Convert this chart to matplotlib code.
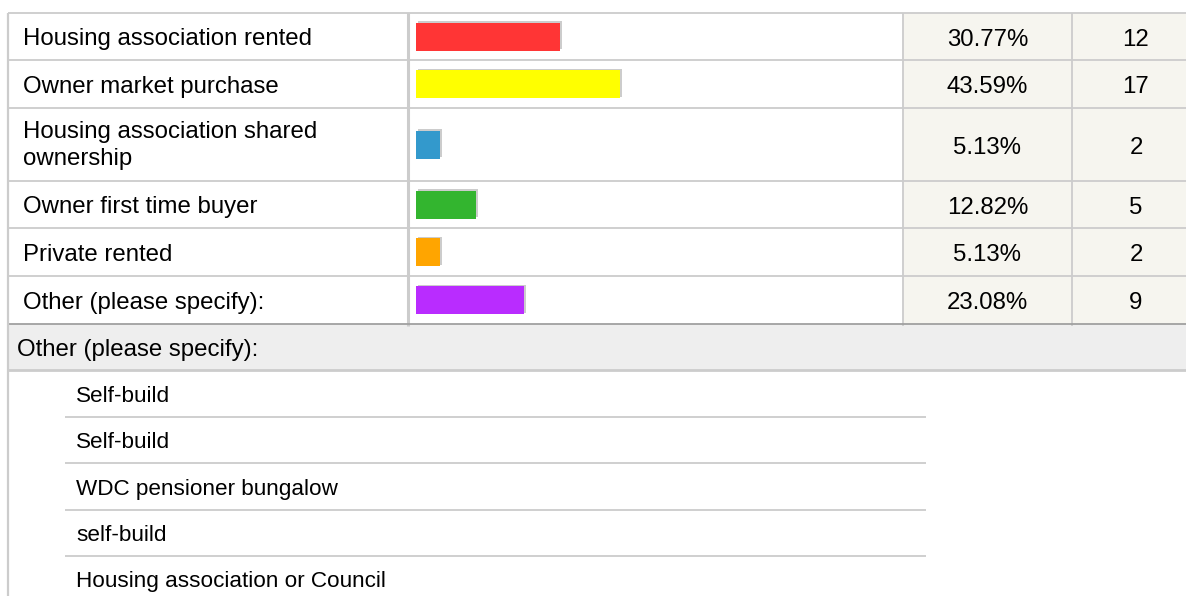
#!/usr/bin/env python3
"""
Survey response table: housing tenure, with inline bars and the
free-text answers given under "Other (please specify)".
"""
import matplotlib
matplotlib.use("Agg")
import matplotlib.pyplot as plt
import matplotlib.patheffects as pe
from matplotlib.patches import Rectangle
from matplotlib import rcParams

rcParams.update({
    "font.family":     ["Liberation Sans", "DejaVu Sans"],
    "font.size":       17.3,
    "savefig.dpi":     100,
})

# answers, share of responses, count
ANSWERS = [
    "Housing association rented",
    "Owner market purchase",
    "Housing association shared\nownership",
    "Owner first time buyer",
    "Private rented",
    "Other (please specify):",
]
PERCENTS = [30.77, 43.59, 5.13, 12.82, 5.13, 23.08]
COUNTS = [12, 17, 2, 5, 2, 9]
BAR_COLORS = ["#ff3535", "#ffff00", "#3399cc", "#33b52f", "#ffa500", "#b92cff"]

OTHER_HEADER = "Other (please specify):"
OTHER_TEXTS = [
    "Self-build",
    "Self-build",
    "WDC pensioner bungalow",
    "self-build",
    "Housing association or Council",
]

W, H = 1186, 596
LINE = "#cccccc"
CELL_BG = "#f6f5ef"
HEAD_BG = "#eeeeee"

# row boundaries (pixels from top)
ROW_EDGES = [13, 60, 108, 181, 228, 276, 324]
COL_X = [8, 408, 903, 1072, W]
COUNT_X = 1136
BAR_X0, PX_PER_PCT = 416, 4.68
SUB_EDGES = [370, 417, 463, 510, 556, 603]


def main():
    fig = plt.figure(figsize=(W / 100, H / 100), dpi=100)
    ax = fig.add_axes([0, 0, 1, 1])
    ax.set_xlim(0, W)
    ax.set_ylim(H, 0)
    ax.axis("off")

    top, bot = ROW_EDGES[0], ROW_EDGES[-1]
    # shaded number columns
    ax.add_patch(Rectangle((COL_X[2], top), W - COL_X[2], bot - top,
                           facecolor=CELL_BG, edgecolor="none", zorder=0))
    # grid
    ax.hlines(ROW_EDGES[:-1], COL_X[0], W, color=LINE, lw=1.3, zorder=1)
    ax.vlines(COL_X[:-1], top, bot + 2, color=LINE, lw=1.3, zorder=1)
    ax.vlines(COL_X[1], top, bot + 2, color=LINE, lw=2.2, zorder=1)

    centers = [(a + b) / 2 for a, b in zip(ROW_EDGES[:-1], ROW_EDGES[1:])]
    for c, label, pct, n in zip(centers, ANSWERS, PERCENTS, COUNTS):
        if "\n" in label:
            ax.text(23, c + 1, label, ha="left", va="center", linespacing=1.3)
        else:
            ax.text(23, c + 9, label, ha="left", va="baseline")
        ax.text((COL_X[2] + COL_X[3]) / 2, c + 9, f"{pct:.2f}%",
                ha="center", va="baseline")
        ax.text(COUNT_X, c + 9, str(n), ha="center", va="baseline")

    # inline bars on their own axes so the percentages set the length
    bax = fig.add_axes([BAR_X0 / W, 0, 100 * PX_PER_PCT / W, 1])
    bax.set_xlim(0, 100)
    bax.set_ylim(H, 0)
    bax.axis("off")
    bax.patch.set_alpha(0)
    bars = bax.barh(centers, PERCENTS, height=28, color=BAR_COLORS,
                    linewidth=0, zorder=3)
    for b in bars:
        b.set_path_effects([
            pe.SimplePatchShadow(offset=(1.4, 0.8), shadow_rgbFace=LINE,
                                 alpha=1.0),
            pe.Normal(),
        ])

    # "Other" free-text section
    ax.add_patch(Rectangle((COL_X[0], bot), W - COL_X[0], SUB_EDGES[0] - bot,
                           facecolor=HEAD_BG, edgecolor="none", zorder=0))
    ax.hlines(bot, COL_X[0], W, color="#a0a0a0", lw=1.3, zorder=2)
    ax.hlines(SUB_EDGES[0], COL_X[0], W, color=LINE, lw=2.0, zorder=2)
    ax.vlines(COL_X[0], top, H, color=LINE, lw=1.6, zorder=2)
    ax.text(17, (bot + SUB_EDGES[0]) / 2 + 9, OTHER_HEADER,
            ha="left", va="baseline")

    sub_centers = [(a + b) / 2 for a, b in zip(SUB_EDGES[:-1], SUB_EDGES[1:])]
    ax.hlines(SUB_EDGES[1:-1], 65, 926, color=LINE, lw=1.3, zorder=1)
    for c, txt in zip(sub_centers, OTHER_TEXTS):
        ax.text(76, c + 8, txt, ha="left", va="baseline", fontsize=16.2)

    fig.savefig("out.png", dpi=100)
    plt.close(fig)


if __name__ == "__main__":
    main()
